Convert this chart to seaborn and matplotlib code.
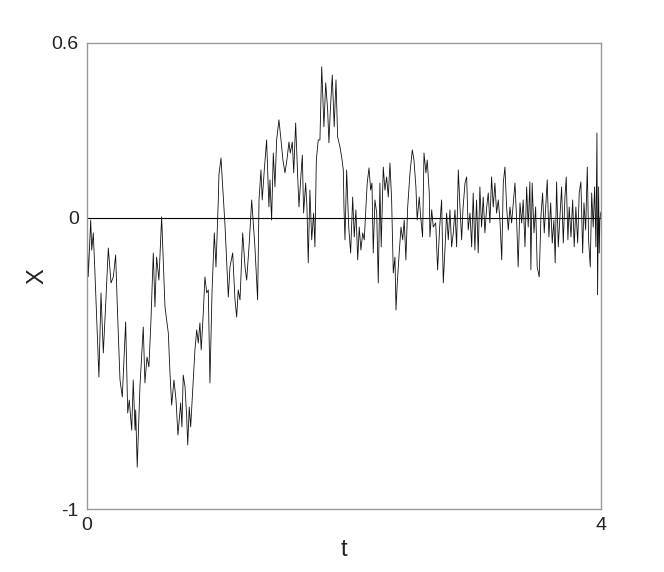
import numpy as np
import pandas as pd
import matplotlib
matplotlib.use("Agg")
import matplotlib.pyplot as plt
import seaborn as sns

# values
t_vals = [
    0.000, 0.010, 0.029, 0.037, 0.049, 0.062, 0.093, 0.109, 0.127, 0.146,
    0.166, 0.187, 0.205, 0.223, 0.239, 0.257, 0.275, 0.301, 0.317, 0.329,
    0.348, 0.360, 0.374, 0.379, 0.391, 0.412, 0.438, 0.451, 0.467, 0.482,
    0.498, 0.516, 0.529, 0.542, 0.560, 0.581, 0.607, 0.633, 0.646, 0.659,
    0.677, 0.693, 0.708, 0.729, 0.739, 0.749, 0.763, 0.776, 0.784, 0.796,
    0.807, 0.823, 0.840, 0.854, 0.866, 0.879, 0.889, 0.905, 0.918, 0.932,
    0.944, 0.957, 0.973, 0.991, 1.004, 1.022, 1.027, 1.043, 1.058, 1.074,
    1.100, 1.113, 1.134, 1.152, 1.165, 1.177, 1.191, 1.212, 1.230, 1.243,
    1.263, 1.282, 1.307, 1.328, 1.339, 1.354, 1.364, 1.380, 1.398, 1.416,
    1.424, 1.437, 1.450, 1.463, 1.476, 1.494, 1.510, 1.525, 1.541, 1.556,
    1.572, 1.582, 1.598, 1.609, 1.624, 1.640, 1.650, 1.663, 1.676, 1.686,
    1.702, 1.712, 1.722, 1.735, 1.749, 1.764, 1.774, 1.785, 1.800, 1.813,
    1.827, 1.844, 1.858, 1.873, 1.883, 1.893, 1.909, 1.924, 1.938, 1.951,
    1.969, 1.982, 1.995, 2.000, 2.008, 2.021, 2.037, 2.052, 2.068, 2.080,
    2.093, 2.107, 2.119, 2.132, 2.146, 2.158, 2.171, 2.181, 2.195, 2.208,
    2.218, 2.228, 2.241, 2.255, 2.267, 2.280, 2.290, 2.306, 2.319, 2.332,
    2.345, 2.358, 2.371, 2.384, 2.397, 2.405, 2.415, 2.430, 2.444, 2.457,
    2.469, 2.482, 2.496, 2.514, 2.532, 2.545, 2.560, 2.570, 2.586, 2.597,
    2.612, 2.623, 2.638, 2.648, 2.664, 2.669, 2.683, 2.695, 2.714, 2.729,
    2.745, 2.760, 2.773, 2.786, 2.799, 2.812, 2.825, 2.838, 2.851, 2.864,
    2.877, 2.890, 2.903, 2.916, 2.926, 2.942, 2.955, 2.967, 2.981, 2.994,
    3.006, 3.019, 3.032, 3.045, 3.058, 3.071, 3.084, 3.097, 3.111, 3.123,
    3.136, 3.149, 3.162, 3.175, 3.188, 3.201, 3.214, 3.228, 3.240, 3.253,
    3.266, 3.279, 3.292, 3.305, 3.318, 3.331, 3.344, 3.356, 3.370, 3.383,
    3.395, 3.409, 3.422, 3.434, 3.447, 3.455, 3.465, 3.479, 3.492, 3.504,
    3.520, 3.533, 3.546, 3.559, 3.572, 3.582, 3.595, 3.609, 3.621, 3.634,
    3.644, 3.655, 3.668, 3.681, 3.694, 3.707, 3.720, 3.730, 3.743, 3.753,
    3.767, 3.780, 3.792, 3.805, 3.819, 3.831, 3.844, 3.858, 3.868, 3.881,
    3.894, 3.904, 3.917, 3.928, 3.940, 3.951, 3.961, 3.969, 3.974, 3.982,
    3.987, 3.992, 4.000,
]
x_vals = [
    0.000, -0.202, -0.008, -0.111, -0.052, -0.190, -0.547, -0.258, -0.464, -0.293,
    -0.104, -0.224, -0.203, -0.128, -0.341, -0.557, -0.615, -0.358, -0.670, -0.626,
    -0.729, -0.557, -0.729, -0.660, -0.856, -0.581, -0.375, -0.567, -0.478, -0.512,
    -0.351, -0.121, -0.306, -0.135, -0.214, 0.003, -0.306, -0.396, -0.533, -0.643,
    -0.557, -0.626, -0.746, -0.636, -0.718, -0.540, -0.581, -0.684, -0.780, -0.650,
    -0.718, -0.591, -0.454, -0.385, -0.430, -0.361, -0.454, -0.327, -0.203, -0.258,
    -0.248, -0.567, -0.258, -0.052, -0.169, 0.061, 0.147, 0.205, 0.095, -0.025,
    -0.272, -0.169, -0.121, -0.282, -0.341, -0.248, -0.282, -0.052, -0.169, -0.214,
    -0.087, 0.061, -0.100, -0.282, 0.061, 0.164, 0.061, 0.164, 0.267, 0.037,
    0.130, -0.008, 0.222, 0.106, 0.267, 0.336, 0.267, 0.198, 0.154, 0.198,
    0.260, 0.222, 0.260, 0.154, 0.325, 0.140, 0.037, 0.130, 0.215, 0.016,
    0.119, 0.037, -0.155, 0.095, -0.076, 0.016, -0.100, 0.198, 0.267, 0.267,
    0.518, 0.312, 0.463, 0.370, 0.257, 0.360, 0.490, 0.312, 0.473, 0.277,
    0.243, 0.209, 0.164, 0.037, -0.076, 0.164, -0.032, -0.121, 0.071, -0.066,
    0.027, -0.145, -0.032, -0.111, -0.052, -0.076, 0.037, 0.119, 0.171, 0.095,
    0.119, -0.121, 0.061, 0.016, -0.224, 0.119, -0.100, 0.174, 0.095, 0.140,
    0.071, 0.188, 0.061, -0.190, -0.135, -0.317, -0.224, -0.121, -0.032, -0.076,
    -0.008, -0.145, 0.037, 0.154, 0.233, 0.198, 0.106, -0.008, 0.071, 0.003,
    -0.066, 0.222, 0.154, 0.198, 0.085, -0.066, 0.027, -0.032, -0.018, -0.179,
    -0.032, 0.061, -0.224, -0.111, 0.016, -0.076, 0.027, -0.100, -0.052, 0.027,
    -0.100, 0.164, 0.037, -0.076, 0.027, 0.119, 0.140, -0.042, 0.016, -0.100,
    0.085, -0.111, 0.061, -0.121, 0.106, -0.032, 0.071, -0.052, 0.037, 0.085,
    -0.018, 0.140, 0.037, 0.119, 0.016, 0.061, -0.008, -0.145, 0.119, 0.174,
    0.037, -0.042, 0.037, -0.018, 0.051, 0.119, -0.008, -0.169, 0.051, -0.018,
    0.061, -0.100, 0.106, -0.032, 0.123, -0.179, 0.119, -0.052, 0.037, -0.169,
    -0.203, 0.003, 0.085, -0.052, 0.051, 0.130, -0.066, 0.051, -0.087, -0.008,
    -0.155, 0.123, -0.100, 0.003, 0.106, -0.087, 0.071, 0.140, -0.076, 0.037,
    -0.066, 0.061, -0.100, 0.037, -0.087, 0.085, 0.123, -0.121, 0.051, -0.042,
    0.174, -0.076, -0.169, 0.085, -0.032, 0.106, -0.100, 0.291, -0.265, 0.106,
    -0.121, -0.008, 0.020,
]
x_ticks = [0, 4]
y_ticks = [-1, 0, 0.6]
y_tick_labels = ["-1", "0", "0.6"]

df = pd.DataFrame({"t": t_vals, "X": x_vals})

sns.set_style("white")
plt.rcParams["font.family"] = ["Liberation Sans", "DejaVu Sans"]

fig = plt.figure(figsize=(6.64, 5.72), dpi=100)
ax = fig.add_axes([0.131, 0.110, 0.774, 0.815])

ax.axhline(0, color="black", lw=0.8, zorder=1)
sns.lineplot(data=df, x="t", y="X", color="#111111", lw=0.6, ax=ax, zorder=2)

ax.set_xlim(0, 4)
ax.set_ylim(-1, 0.6)
ax.set_xticks(x_ticks)
ax.set_xticklabels([str(v) for v in x_ticks])
ax.set_yticks(y_ticks)
ax.set_yticklabels(y_tick_labels)
ax.tick_params(length=0, labelsize=14, colors="#222222", pad=6)
ax.set_xlabel("t", fontsize=17, color="#222222", labelpad=3)
ax.set_ylabel("X", fontsize=17, color="#222222", labelpad=2)

for sp in ax.spines.values():
    sp.set_color("#999999")
    sp.set_linewidth(1.0)

fig.savefig("out.png", dpi=100)
